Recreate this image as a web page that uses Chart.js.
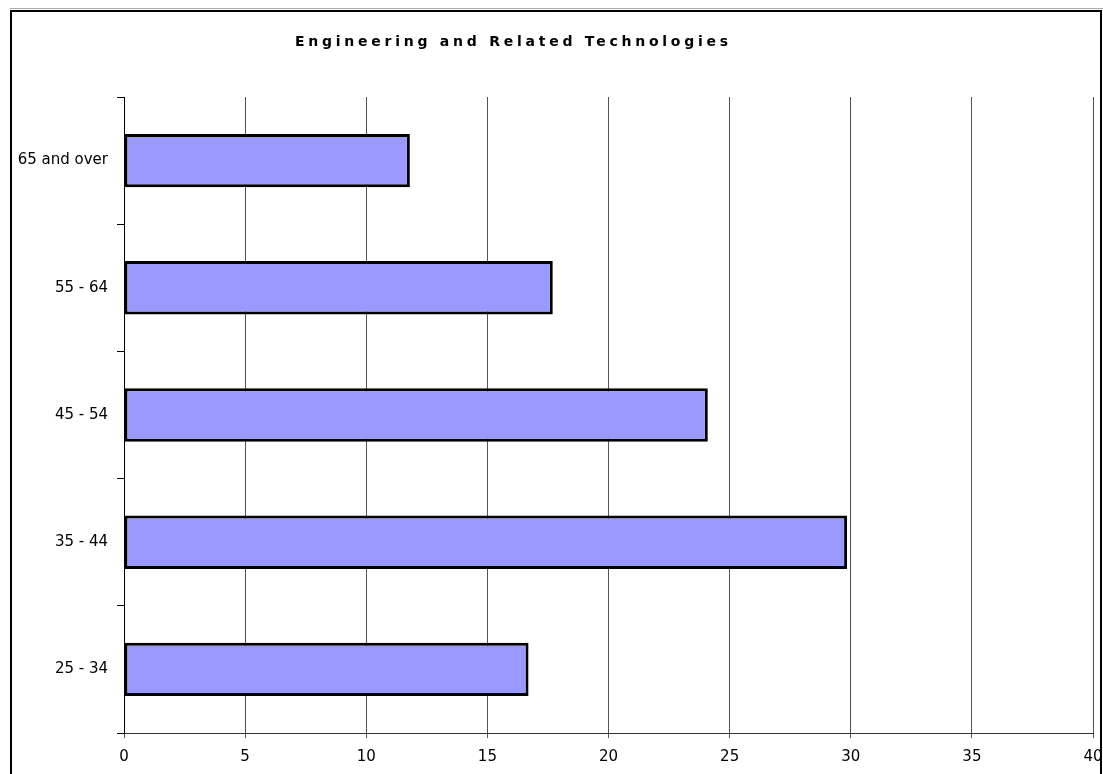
<!DOCTYPE html>
<html>
<head>
<meta charset="utf-8">
<script src="https://cdn.jsdelivr.net/npm/chart.js@4/dist/chart.umd.min.js"></script>
<style>
  html, body { margin: 0; padding: 0; background: #fff; }
  canvas { display: block; }
</style>
</head>
<body>
<canvas id="c" width="1103" height="774"></canvas>
<script>
const categories = ['65 and over', '55 - 64', '45 - 54', '35 - 44', '25 - 34'];
const values = [11.8, 17.7, 24.1, 29.85, 16.7];
const titleText = 'Engineering and Related Technologies';
const xMin = 0, xMax = 40, xStep = 5;

const framePlugin = {
  id: 'frame',
  beforeDraw(chart) {
    const ctx = chart.ctx;
    ctx.save();
    ctx.fillStyle = '#fff';
    ctx.fillRect(0, 0, chart.width, chart.height);
    ctx.strokeStyle = '#aaa';
    ctx.lineWidth = 1;
    ctx.beginPath();
    ctx.moveTo(10, 8.5);
    ctx.lineTo(chart.width, 8.5);
    ctx.stroke();
    ctx.strokeStyle = '#000';
    ctx.lineWidth = 2;
    ctx.strokeRect(11, 11, 1090, 800);
    ctx.restore();
  },
  afterDraw(chart) {
    const ctx = chart.ctx;
    ctx.save();
    ctx.font = 'bold 14px DejaVu Sans';
    ctx.fillStyle = '#000';
    ctx.textBaseline = 'alphabetic';
    ctx.textAlign = 'left';
    if ('letterSpacing' in ctx) ctx.letterSpacing = '0px';
    const target = 433;
    const w0 = ctx.measureText(titleText).width;
    const sp = Math.max(0, (target - w0) / (titleText.length - 1));
    if ('letterSpacing' in ctx) ctx.letterSpacing = sp.toFixed(2) + 'px';
    ctx.fillText(titleText, 295, 46);
    ctx.restore();
  }
};

new Chart(document.getElementById('c'), {
  type: 'bar',
  data: {
    labels: categories,
    datasets: [{
      data: values,
      backgroundColor: '#9999FF',
      borderColor: '#000',
      borderWidth: 3,
      borderSkipped: false,
      barPercentage: 0.42,
      categoryPercentage: 1.0
    }]
  },
  options: {
    indexAxis: 'y',
    responsive: false,
    animation: false,
    layout: { padding: { top: 97, left: 0, right: 10, bottom: 0 } },
    plugins: { legend: { display: false }, tooltip: { enabled: false }, title: { display: false } },
    scales: {
      x: {
        min: xMin, max: xMax,
        ticks: { stepSize: xStep, color: '#000', font: { family: 'DejaVu Sans', size: 15 }, padding: 10, maxRotation: 0 },
        grid: { color: '#555', lineWidth: 1, tickLength: 5, drawTicks: true },
        border: { color: '#333', width: 1 },
        afterFit(scale) { scale.height = 41; scale.paddingRight = 0; scale.paddingLeft = 0; }
      },
      y: {
        ticks: { color: '#000', font: { family: 'DejaVu Sans', size: 15 }, padding: 9 },
        grid: { drawOnChartArea: false, tickLength: 7, color: '#000', offset: true },
        border: { color: '#000', width: 1 },
        afterFit(scale) { scale.width = 124; }
      }
    }
  },
  plugins: [framePlugin]
});
</script>
</body>
</html>
